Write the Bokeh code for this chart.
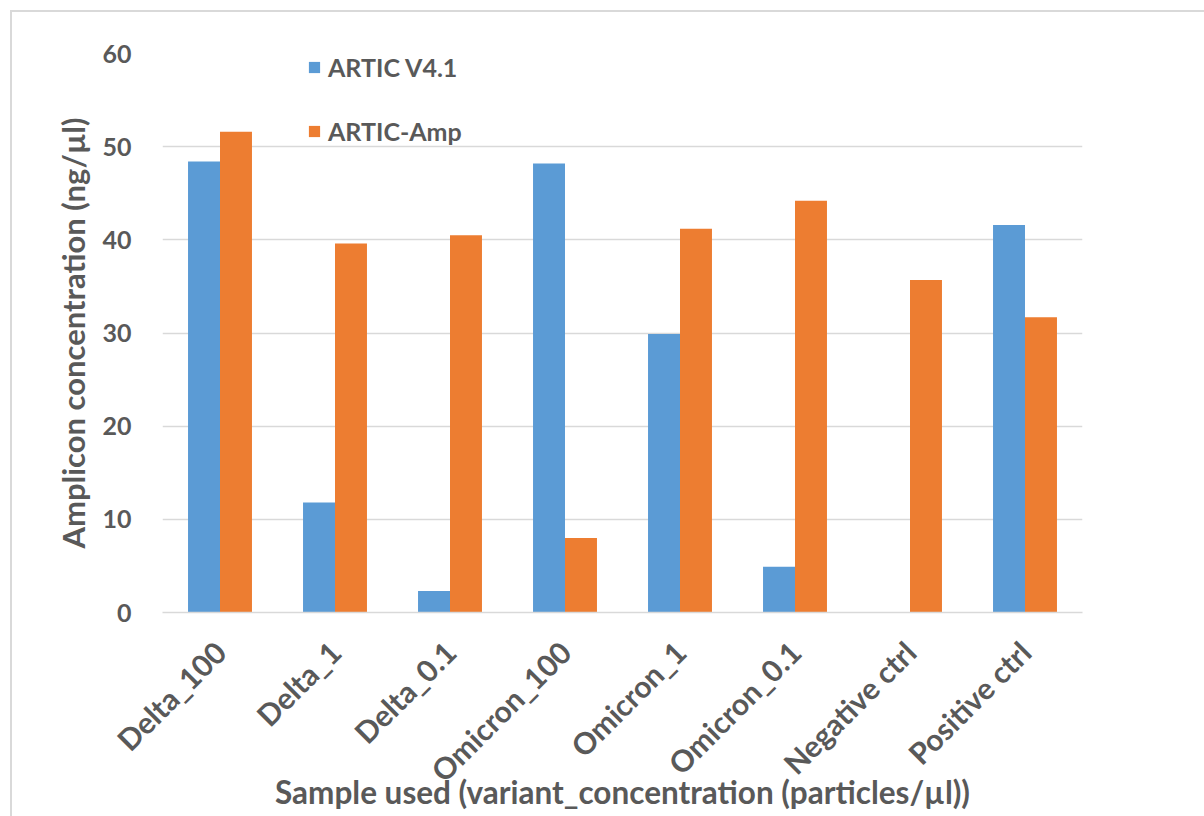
from bokeh.plotting import figure
from bokeh.models import FactorRange, ColumnDataSource, Legend
from bokeh.transform import dodge
from bokeh.embed import file_html
from bokeh.resources import INLINE
import math

categories = ["Delta_100", "Delta_1", "Delta_0.1", "Omicron_100", "Omicron_1",
              "Omicron_0.1", "Negative ctrl", "Positive ctrl"]
artic_v41 = [48.4, 11.8, 2.3, 48.2, 29.9, 4.9, 0.0, 41.6]
artic_amp = [51.6, 39.6, 40.5, 8.0, 41.2, 44.2, 35.7, 31.7]
series_names = ["ARTIC V4.1", "ARTIC-Amp"]
y_ticks = [0, 10, 20, 30, 40, 50, 60]

BLUE = "#5B9BD5"
ORANGE = "#ED7D31"
TEXT = "#595959"
GRID = "#D9D9D9"
FONT = "Lato"

src = ColumnDataSource(dict(cat=categories, v41=artic_v41, amp=artic_amp))

p = figure(x_range=FactorRange(*categories, range_padding=0), y_range=(0, 60),
           width=1204, height=816, output_backend="svg", toolbar_location=None,
           min_border_left=162, min_border_right=122, min_border_top=53,
           min_border_bottom=204)
p.outline_line_color = None
p.background_fill_color = "white"
p.border_fill_alpha = 0
p.styles = {
    "background-color": "white",
    "background-image": "linear-gradient(#D9D9D9, #D9D9D9), linear-gradient(#D9D9D9, #D9D9D9)",
    "background-size": "calc(100% - 10px) 2px, 2px calc(100% - 10px)",
    "background-position": "10px 10px, 10px 10px",
    "background-repeat": "no-repeat",
}

r1 = p.vbar(x=dodge("cat", -0.139, range=p.x_range), top="v41", width=0.278,
            source=src, fill_color=BLUE, line_color=None)
r2 = p.vbar(x=dodge("cat", 0.139, range=p.x_range), top="amp", width=0.278,
            source=src, fill_color=ORANGE, line_color=None)

# grid
p.xgrid.grid_line_color = None
p.ygrid.grid_line_color = GRID
p.ygrid.grid_line_width = 1.5

# y axis
p.yaxis.ticker = y_ticks
p.yaxis.axis_line_color = None
p.yaxis.major_tick_line_color = None
p.yaxis.minor_tick_line_color = None
p.yaxis.major_label_standoff = 25
p.yaxis.major_label_text_font = FONT
p.yaxis.major_label_text_font_style = "bold"
p.yaxis.major_label_text_font_size = "25px"
p.yaxis.major_label_text_color = TEXT
p.yaxis.axis_label = "Amplicon concentration (ng/µl)"
p.yaxis.axis_label_text_font = FONT
p.yaxis.axis_label_text_font_style = "bold"
p.yaxis.axis_label_text_font_size = "31px"
p.yaxis.axis_label_text_color = TEXT
p.yaxis.axis_label_standoff = 7

# x axis
p.xaxis.axis_line_color = GRID
p.xaxis.axis_line_width = 1.5
p.xaxis.major_tick_line_color = None
p.xaxis.minor_tick_line_color = None
p.xaxis.major_label_orientation = math.pi / 4
p.xaxis.major_label_standoff = 28
p.xaxis.major_label_text_font = FONT
p.xaxis.major_label_text_font_style = "bold"
p.xaxis.major_label_text_font_size = "30px"
p.xaxis.major_label_text_color = TEXT
p.xaxis.axis_label = "Sample used (variant_concentration (particles/µl))"
p.xaxis.axis_label_text_font = FONT
p.xaxis.axis_label_text_font_style = "bold"
p.xaxis.axis_label_text_font_size = "31.5px"
p.xaxis.axis_label_text_color = TEXT
p.xaxis.axis_label_standoff = -31

legend = Legend(items=[(series_names[0], [r1]), (series_names[1], [r2])],
                location=(145, 466))
legend.border_line_color = None
legend.background_fill_alpha = 0
legend.padding = 0
legend.margin = 0
legend.spacing = 34
legend.glyph_width = 14
legend.glyph_height = 14
legend.label_standoff = 7
legend.label_text_font = FONT
legend.label_text_font_style = "bold"
legend.label_text_font_size = "25px"
legend.label_text_color = TEXT
p.add_layout(legend)

open("out.html", "w").write(file_html(p, INLINE))
